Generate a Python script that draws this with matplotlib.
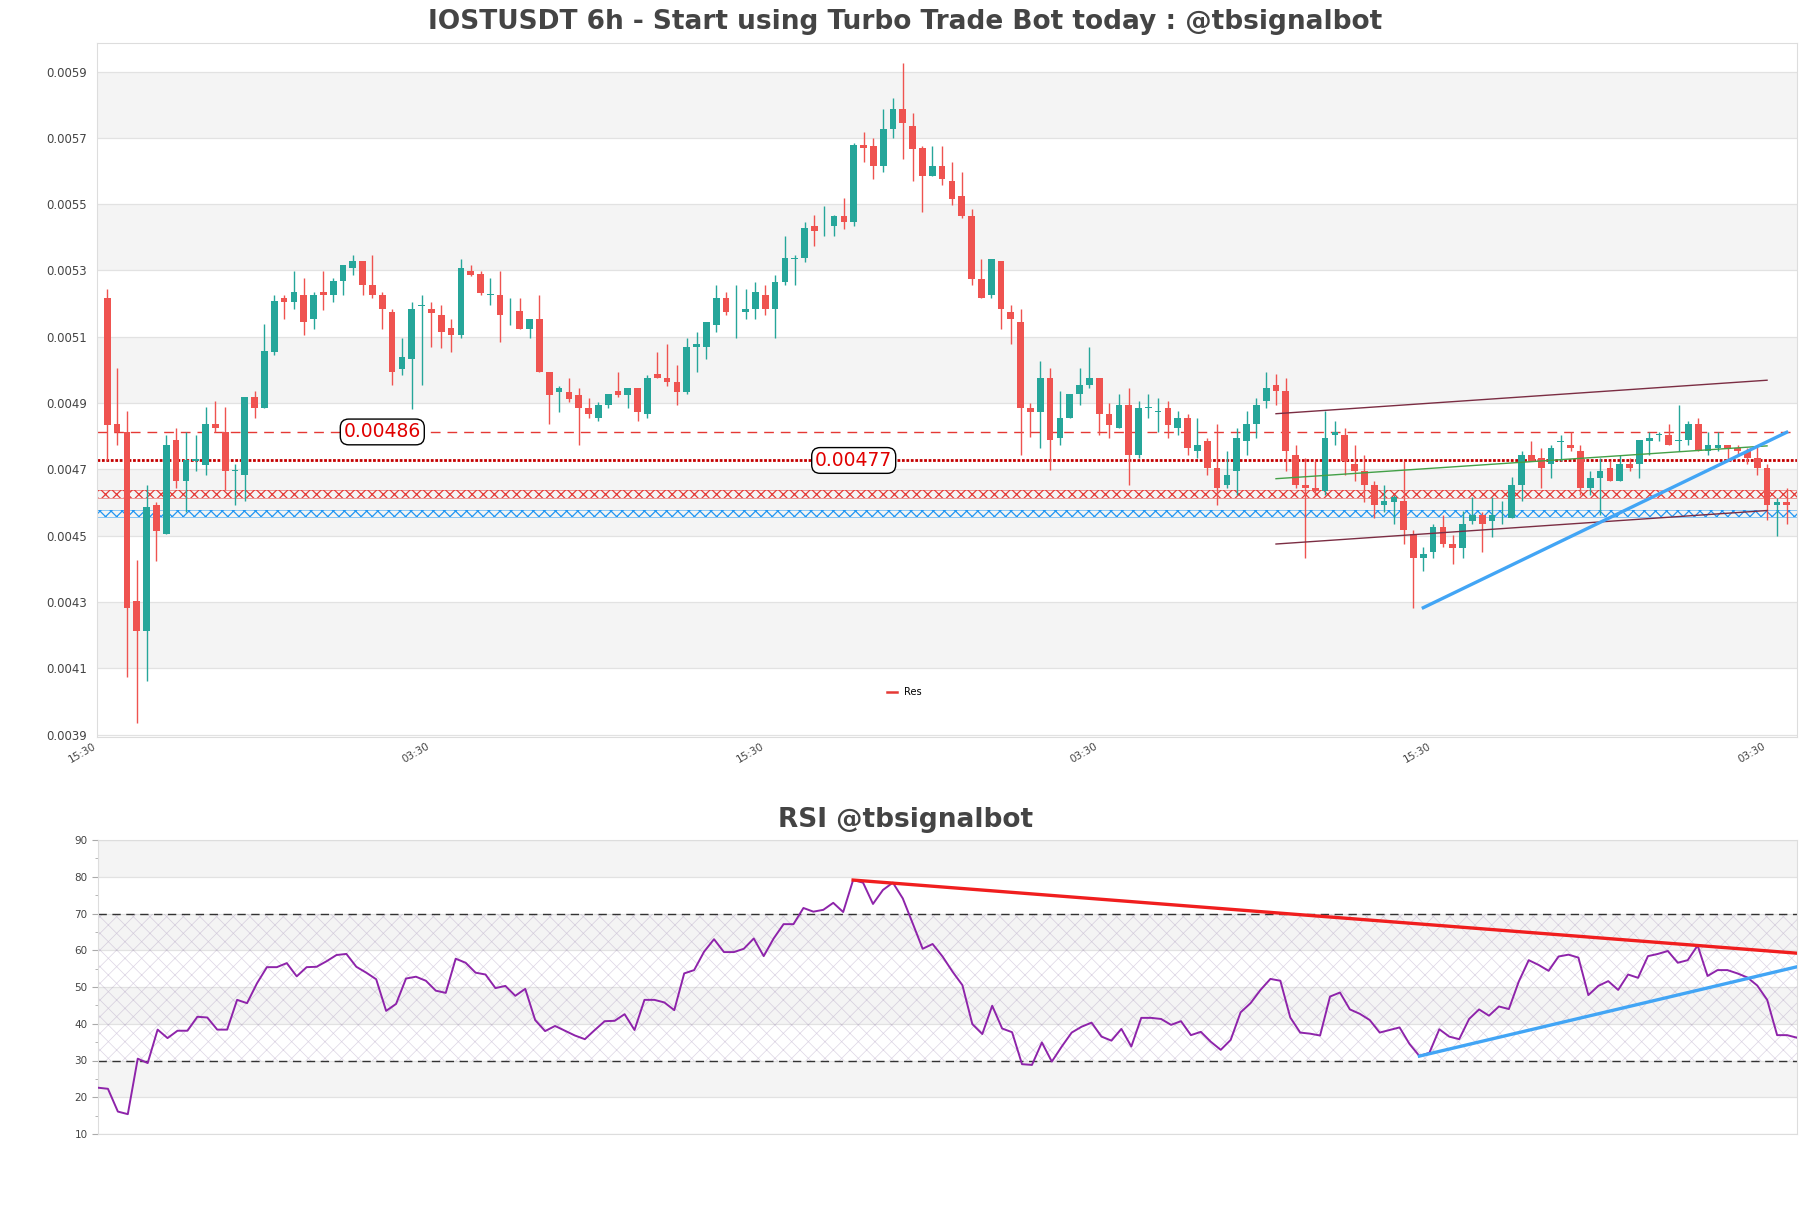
import numpy as np
import pandas as pd
import matplotlib
matplotlib.use("Agg")
import matplotlib.pyplot as plt
import matplotlib.dates as mdates
from matplotlib.lines import Line2D

TITLE = "IOSTUSDT 6h - Start using Turbo Trade Bot today : @tbsignalbot"
RSI_TITLE = "RSI @tbsignalbot"

# 6h candles, prices in units of 1e-4 USDT
START = "2023-05-01 21:30"
TICK_START = "2023-05-01 15:30"
opens = [52.16, 48.36, 48.14, 43.04, 42.12, 45.92, 45.05, 47.88, 46.66, 47.26,
         47.13, 48.37, 48.14, 46.96, 46.84, 49.17, 48.86, 50.54, 52.16, 52.05,
         52.27, 51.54, 52.36, 52.27, 52.67, 53.06, 53.28, 52.56, 52.27, 51.75,
         50.04, 50.34, 51.94, 51.85, 51.66, 51.26, 51.05, 52.97, 52.90, 52.26,
         52.27, 51.74, 51.78, 51.22, 51.55, 49.94, 49.33, 49.33, 49.24, 48.86,
         48.55, 48.95, 49.36, 49.24, 49.46, 48.66, 49.87, 49.76, 49.64, 49.33,
         50.68, 50.68, 51.35, 52.16, 51.77, 51.75, 51.85, 52.27, 51.85, 52.66,
         53.36, 53.37, 54.34, 54.24, 54.34, 54.65, 54.45, 56.79, 56.76, 56.16,
         57.28, 57.88, 57.37, 56.68, 55.86, 56.16, 55.69, 55.26, 54.65, 52.74,
         52.25, 53.28, 51.75, 51.46, 48.86, 48.72, 49.77, 47.96, 48.56, 49.26,
         49.56, 49.77, 48.66, 48.25, 48.95, 47.44, 48.85, 48.74, 48.86, 48.25,
         48.55, 47.55, 47.85, 47.04, 46.54, 46.95, 47.85, 48.36, 49.06, 49.56,
         49.36, 47.44, 46.54, 46.45, 46.34, 48.05, 48.05, 47.15, 46.95, 46.54,
         45.92, 46.03, 46.06, 45.05, 44.32, 44.52, 45.25, 44.75, 44.62, 45.45,
         45.63, 45.45, 45.62, 45.53, 46.54, 47.44, 47.35, 47.15, 47.84, 47.75,
         47.55, 46.43, 46.74, 47.04, 46.64, 47.15, 47.15, 47.85, 48.04, 48.05,
         47.87, 47.88, 48.36, 47.55, 47.65, 47.75, 47.65, 47.55, 47.35, 47.04,
         45.94, 46.03]
highs = [52.45, 50.07, 48.76, 44.27, 46.54, 46.03, 48.05, 48.25, 48.14, 48.05,
         48.89, 49.06, 48.89, 47.15, 49.17, 49.36, 51.38, 52.27, 52.27, 52.97,
         52.76, 52.36, 52.97, 52.76, 53.17, 53.48, 53.28, 53.48, 52.36, 51.85,
         50.95, 52.05, 52.27, 52.05, 51.96, 51.53, 53.34, 53.17, 52.97, 52.76,
         52.97, 52.16, 52.16, 51.55, 52.27, 49.94, 49.53, 49.76, 49.46, 49.15,
         49.03, 49.26, 49.94, 49.46, 49.46, 49.84, 50.54, 50.77, 50.16, 50.95,
         51.15, 51.46, 52.56, 52.36, 52.56, 52.45, 52.66, 52.56, 52.86, 54.04,
         53.46, 54.47, 54.68, 54.95, 54.68, 55.19, 56.84, 57.17, 56.98, 57.88,
         58.19, 59.27, 57.75, 56.76, 56.76, 56.76, 56.27, 55.96, 54.85, 53.34,
         53.34, 53.28, 51.96, 51.85, 48.99, 50.27, 50.07, 49.37, 49.26, 50.07,
         50.68, 49.77, 48.99, 49.26, 49.46, 49.06, 49.26, 49.15, 49.06, 48.75,
         48.66, 48.55, 47.96, 48.36, 47.55, 48.25, 48.75, 49.15, 49.94, 49.87,
         49.77, 47.75, 47.35, 47.24, 48.75, 48.45, 48.25, 47.75, 47.44, 46.64,
         46.54, 46.23, 47.24, 45.16, 44.65, 45.36, 45.63, 45.02, 45.76, 46.17,
         45.72, 46.17, 46.06, 46.77, 47.55, 47.85, 47.65, 47.75, 48.05, 48.14,
         47.75, 46.95, 47.35, 47.24, 47.44, 47.35, 47.88, 48.14, 48.14, 48.36,
         48.95, 48.45, 48.55, 48.14, 48.14, 47.75, 47.75, 47.65, 47.70, 47.15,
         46.13, 46.43]
lows = [47.28, 47.74, 40.74, 39.34, 40.62, 44.24, 45.05, 46.43, 45.72, 46.95,
        46.84, 48.14, 46.37, 45.92, 46.06, 48.55, 48.86, 50.45, 51.54, 51.85,
        51.05, 51.22, 51.82, 52.05, 52.27, 52.86, 52.27, 52.16, 51.22, 49.56,
        49.84, 48.83, 49.56, 50.68, 50.65, 50.54, 50.95, 52.83, 52.27, 51.96,
        50.84, 51.35, 51.22, 50.95, 49.94, 48.36, 48.72, 49.03, 47.75, 48.55,
        48.45, 48.86, 49.19, 48.86, 48.45, 48.55, 49.76, 49.53, 48.95, 49.26,
        49.94, 50.34, 51.15, 51.66, 50.95, 51.55, 51.55, 51.66, 50.95, 52.56,
        52.56, 53.26, 53.73, 54.04, 54.04, 54.25, 54.34, 56.27, 55.77, 55.96,
        56.98, 56.36, 55.69, 54.76, 55.86, 55.57, 54.96, 54.58, 52.56, 52.16,
        52.16, 51.24, 50.77, 47.44, 47.98, 47.64, 46.97, 47.75, 48.55, 48.95,
        49.46, 48.05, 47.96, 48.25, 46.54, 47.35, 48.55, 48.14, 47.96, 48.05,
        47.44, 47.35, 46.84, 45.92, 46.43, 46.23, 47.44, 47.96, 48.86, 48.95,
        46.95, 46.43, 44.32, 46.23, 46.23, 47.75, 46.84, 46.64, 46.03, 45.53,
        45.72, 45.36, 44.75, 42.82, 43.94, 44.32, 44.65, 44.14, 44.32, 45.36,
        44.51, 44.95, 45.36, 45.53, 46.06, 47.24, 46.43, 46.74, 47.24, 47.55,
        46.23, 46.23, 45.63, 46.64, 46.64, 46.95, 46.74, 47.44, 47.85, 47.75,
        47.55, 47.75, 47.55, 47.44, 47.55, 47.24, 47.44, 47.15, 46.84, 45.47,
        45.00, 45.36]
closes = [48.33, 48.14, 42.81, 42.12, 45.86, 45.14, 47.75, 46.66, 47.28, 47.30,
          48.37, 48.25, 46.95, 46.98, 49.17, 48.86, 50.57, 52.08, 52.05, 52.36,
          51.44, 52.27, 52.27, 52.67, 53.17, 53.28, 52.56, 52.27, 51.85, 49.94,
          50.38, 51.85, 51.96, 51.73, 51.15, 51.05, 53.06, 52.86, 52.33, 52.28,
          51.66, 51.76, 51.22, 51.55, 49.94, 49.24, 49.46, 49.13, 48.85, 48.66,
          48.95, 49.26, 49.24, 49.46, 48.72, 49.76, 49.76, 49.64, 49.33, 50.68,
          50.77, 51.46, 52.16, 51.75, 51.79, 51.85, 52.36, 51.85, 52.66, 53.37,
          53.38, 54.27, 54.18, 54.26, 54.65, 54.45, 56.79, 56.68, 56.16, 57.28,
          57.88, 57.45, 56.67, 55.86, 56.16, 55.77, 55.16, 54.65, 52.74, 52.16,
          53.34, 51.85, 51.55, 48.86, 48.72, 49.77, 47.88, 48.56, 49.26, 49.56,
          49.77, 48.66, 48.35, 48.95, 47.44, 48.86, 48.87, 48.76, 48.35, 48.55,
          47.65, 47.75, 47.04, 46.43, 46.84, 47.96, 48.36, 48.95, 49.46, 49.36,
          47.55, 46.54, 46.43, 46.34, 47.96, 48.14, 47.24, 46.95, 46.54, 45.92,
          46.06, 46.17, 45.16, 44.32, 44.45, 45.25, 44.75, 44.62, 45.36, 45.63,
          45.36, 45.63, 45.64, 46.54, 47.44, 47.24, 47.04, 47.65, 47.86, 47.65,
          46.43, 46.74, 46.95, 46.64, 47.15, 47.04, 47.88, 47.96, 48.06, 47.75,
          47.89, 48.36, 47.55, 47.75, 47.75, 47.65, 47.55, 47.35, 47.04, 45.94,
          46.03, 45.94]

rsi = [22.6, 22.3, 16.1, 15.4, 30.5, 29.3, 38.4, 36.1, 38.1, 38.1,
       41.9, 41.7, 38.4, 38.4, 46.5, 45.6, 51.0, 55.4, 55.4, 56.5,
       52.9, 55.4, 55.5, 57.0, 58.7, 59.0, 55.5, 53.9, 52.1, 43.5,
       45.4, 52.3, 52.8, 51.7, 49.0, 48.4, 57.7, 56.6, 53.9, 53.4,
       49.7, 50.3, 47.6, 49.5, 41.0, 38.0, 39.4, 38.1, 36.8, 35.8,
       38.3, 40.7, 40.8, 42.6, 38.3, 46.5, 46.5, 45.8, 43.7, 53.7,
       54.6, 59.6, 63.0, 59.5, 59.5, 60.4, 63.2, 58.4, 63.2, 67.1,
       67.1, 71.5, 70.5, 71.0, 72.9, 70.4, 79.1, 78.4, 72.6, 76.4,
       78.4, 74.1, 67.3, 60.4, 61.7, 58.3, 54.2, 50.5, 39.9, 37.2,
       44.9, 38.7, 37.7, 29.0, 28.8, 34.9, 29.7, 33.8, 37.6, 39.2,
       40.3, 36.5, 35.4, 38.6, 33.8, 41.6, 41.6, 41.3, 39.7, 40.7,
       36.9, 37.8, 35.1, 32.9, 35.6, 43.1, 45.6, 49.2, 52.2, 51.7,
       41.7, 37.6, 37.3, 36.8, 47.4, 48.5, 43.9, 42.7, 41.0, 37.6,
       38.3, 39.0, 34.5, 31.2, 32.1, 38.5, 36.5, 35.8, 41.3, 43.9,
       42.2, 44.7, 44.0, 51.5, 57.3, 56.0, 54.4, 58.3, 58.8, 58.0,
       47.8, 50.3, 51.6, 49.2, 53.4, 52.5, 58.4, 59.0, 59.8, 56.6,
       57.3, 61.3, 53.0, 54.6, 54.6, 53.7, 52.6, 50.4, 46.5, 36.9,
       36.9, 36.2]

# levels and trend lines (candle index, price in 1e-4)
res_dash = 48.13
res_dash_label = "0.00486"
res_dot = 47.27
res_dot_label = "0.00477"
zone_red = (46.15, 46.37)
zone_blue = (45.57, 45.79)
chan_idx = [119, 169]
chan_upper = [48.68, 49.69]
chan_lower = [44.75, 45.76]
chan_mid = [46.72, 47.71]
sup_idx = [134, 171]
sup_val = [42.83, 48.12]
rsi_res_idx = [76, 171]
rsi_res_val = [79.1, 59.2]
rsi_sup_idx = [133, 171]
rsi_sup_val = [31.2, 55.5]

UP, DOWN = "#26a69a", "#ef5350"
BAND = "#f4f4f4"
GRID = "#e2e2e2"

plt.rcParams["hatch.linewidth"] = 0.9

S = 1e-4
o, h, l, c = (np.array(a) * S for a in (opens, highs, lows, closes))
dates = pd.date_range(START, periods=len(o), freq="6h")
x = mdates.date2num(dates)
step = x[1] - x[0]

W, H = 1811, 1208
fig = plt.figure(figsize=(W / 100, H / 100), dpi=100)
ax = fig.add_axes([97 / W, 1 - 737 / H, 1700 / W, 694 / H])
ax2 = fig.add_axes([98 / W, 1 - 1134 / H, 1699 / W, 294 / H])

# ---------------- price panel ----------------
yt = np.round(np.arange(39, 59.1, 2) * S, 6)
for k in range(len(yt) - 1):
    if k % 2 == 1:
        ax.axhspan(yt[k], yt[k + 1], color=BAND, lw=0, zorder=0)
for v in yt:
    ax.axhline(v, color=GRID, lw=0.9, zorder=0.5)

up = c >= o
col = np.where(up, UP, DOWN)
ax.vlines(x, l, h, colors=col, lw=1.0, zorder=2)
body = np.maximum(np.abs(c - o), 0.02 * S)
ax.bar(x, body, bottom=np.minimum(o, c), width=step * 0.68, color=col,
       lw=0, zorder=3)

ax.axhline(res_dash * S, color="#e53935", ls=(0, (7, 5)), lw=1.0, zorder=1)
ax.axhline(res_dot * S, color="#c40000", ls=(0, (1, 0.6)), lw=2.0, zorder=1)
for (lo, hi), zc in ((zone_red, "#e53935"), (zone_blue, "#2196f3")):
    ax.axhspan(lo * S, hi * S, fill=False, hatch="xxx", edgecolor=zc,
               lw=0, zorder=1)
    ax.axhline(lo * S, color=zc, lw=0.5, alpha=0.7, zorder=1)
    ax.axhline(hi * S, color=zc, lw=0.5, alpha=0.7, zorder=1)

box = dict(boxstyle="round,pad=0.18,rounding_size=0.45", fc="white", ec="black", lw=1)
ax.text(x[28], res_dash * S, res_dash_label, color="#e00000", fontsize=13.5,
        ha="center", va="center", bbox=box, zorder=5)
ax.text(x[76], res_dot * S, res_dot_label, color="#e00000", fontsize=13.5,
        ha="center", va="center", bbox=box, zorder=5)

ax.plot(x[chan_idx], np.array(chan_upper) * S, color="#7b2d43", lw=1.0, zorder=4)
ax.plot(x[chan_idx], np.array(chan_lower) * S, color="#7b2d43", lw=1.0, zorder=4)
ax.plot(x[chan_idx], np.array(chan_mid) * S, color="#43a047", lw=1.0, zorder=4)
ax.plot(x[sup_idx], np.array(sup_val) * S, color="#42a5f5", lw=2.4, zorder=4)

ax.legend(handles=[Line2D([0], [0], color="#e53935", lw=1.8, label="Res")],
          loc="lower center", bbox_to_anchor=(0.475, 0.045), frameon=False,
          fontsize=7, handlelength=1.0)

ax.set_xlim(x[0] - 1.05 * step, x[-1] + 1.05 * step)
ax.set_ylim(38.93 * S, 59.86 * S)
ax.set_yticks(yt)
ax.set_yticklabels([f"{v:.4f}" for v in yt])
ticks = pd.date_range(TICK_START, periods=6, freq="204h")
ax.set_xticks(mdates.date2num(ticks))
ax.xaxis.set_major_formatter(mdates.DateFormatter("%H:%M"))
ax.tick_params(axis="y", length=0, pad=7, labelsize=8.5, labelcolor="#444444")
ax.tick_params(axis="x", length=0, pad=3, labelsize=7.5, labelcolor="#444444",
               labelrotation=30)
for t in ax.get_xticklabels():
    t.set_ha("right")
for sp in ax.spines.values():
    sp.set_color("#dddddd")

# ---------------- RSI panel ----------------
rt = np.arange(10, 91, 10)
for k in range(len(rt) - 1):
    if k % 2 == 1:
        ax2.axhspan(rt[k], rt[k + 1], color=BAND, lw=0, zorder=0)
for v in rt:
    ax2.axhline(v, color=GRID, lw=0.9, zorder=0.5)
with plt.rc_context({"hatch.linewidth": 0.5}):
    ax2.axhspan(30, 70, fill=False, hatch="xx", edgecolor=(0.55, 0.45, 0.65, 0.3),
                lw=0, zorder=1)
ax2.axhline(30, color="#333333", ls=(0, (6, 4)), lw=1.0, zorder=2)
ax2.axhline(70, color="#333333", ls=(0, (6, 4)), lw=1.0, zorder=2)
ax2.plot(x, rsi, color="#8e24aa", lw=1.4, zorder=3)
ax2.plot(x[rsi_res_idx], rsi_res_val, color="#f01e1e", lw=2.4, zorder=4)
ax2.plot(x[rsi_sup_idx], rsi_sup_val, color="#42a5f5", lw=2.4, zorder=4)

ax2.set_xlim(x[0], x[-1])
ax2.set_ylim(10, 90)
ax2.set_yticks(rt)
ax2.set_yticks(np.arange(15, 90, 10), minor=True)
ax2.set_xticks([])
ax2.tick_params(axis="y", which="major", length=4, color="#aaaaaa",
                labelsize=7.5, labelcolor="#444444")
ax2.tick_params(axis="y", which="minor", length=2.5, color="#aaaaaa")
for sp in ax2.spines.values():
    sp.set_color("#dddddd")

fig.text(0.5, 1 - 22 / H, TITLE, ha="center", va="center", fontsize=19,
         fontweight="bold", color="#444444")
fig.text(0.5, 1 - 820 / H, RSI_TITLE, ha="center", va="center", fontsize=19,
         fontweight="bold", color="#444444")

fig.savefig("out.png", dpi=100)
